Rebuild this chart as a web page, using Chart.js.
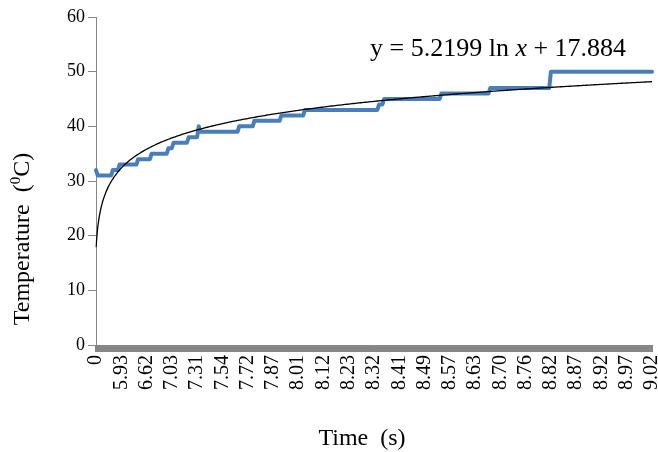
<!DOCTYPE html>
<html>
<head>
<meta charset="utf-8">
<script src="https://cdn.jsdelivr.net/npm/chart.js@4.4.1/dist/chart.umd.min.js"></script>
<style>
  html, body { margin: 0; padding: 0; background: #ffffff; }
  #wrap { width: 658px; height: 452px; }
</style>
</head>
<body>
<div id="wrap"><canvas id="tempChart" width="658" height="452"></canvas></div>
<script>
// Tick labels shown under the x axis (one every 15 readings)
const tickLabels = ['0', '5.93', '6.62', '7.03', '7.31', '7.54', '7.72', '7.87', '8.01', '8.12', '8.23',
    '8.32', '8.41', '8.49', '8.57', '8.63', '8.70', '8.76', '8.82', '8.87', '8.92', '8.97', '9.02'];
const labelEvery = 15;

// Measured temperature, one value per reading (rows of 15)
const temperature = [
    32, 31, 31, 31, 31, 31, 31, 31, 31, 31, 32, 32, 32, 32, 33,
    33, 33, 33, 33, 33, 33, 33, 33, 33, 33, 34, 34, 34, 34, 34,
    34, 34, 34, 35, 35, 35, 35, 35, 35, 35, 35, 35, 35, 36, 36,
    36, 37, 37, 37, 37, 37, 37, 37, 37, 37, 38, 38, 38, 38, 38,
    38, 40, 39, 39, 39, 39, 39, 39, 39, 39, 39, 39, 39, 39, 39,
    39, 39, 39, 39, 39, 39, 39, 39, 39, 39, 40, 40, 40, 40, 40,
    40, 40, 40, 40, 41, 41, 41, 41, 41, 41, 41, 41, 41, 41, 41,
    41, 41, 41, 41, 41, 42, 42, 42, 42, 42, 42, 42, 42, 42, 42,
    42, 42, 42, 42, 43, 43, 43, 43, 43, 43, 43, 43, 43, 43, 43,
    43, 43, 43, 43, 43, 43, 43, 43, 43, 43, 43, 43, 43, 43, 43,
    43, 43, 43, 43, 43, 43, 43, 43, 43, 43, 43, 43, 43, 43, 43,
    43, 43, 43, 44, 44, 44, 45, 45, 45, 45, 45, 45, 45, 45, 45,
    45, 45, 45, 45, 45, 45, 45, 45, 45, 45, 45, 45, 45, 45, 45,
    45, 45, 45, 45, 45, 45, 45, 45, 45, 45, 46, 46, 46, 46, 46,
    46, 46, 46, 46, 46, 46, 46, 46, 46, 46, 46, 46, 46, 46, 46,
    46, 46, 46, 46, 46, 46, 46, 46, 46, 47, 47, 47, 47, 47, 47,
    47, 47, 47, 47, 47, 47, 47, 47, 47, 47, 47, 47, 47, 47, 47,
    47, 47, 47, 47, 47, 47, 47, 47, 47, 47, 47, 47, 47, 47, 47,
    50, 50, 50, 50, 50, 50, 50, 50, 50, 50, 50, 50, 50, 50, 50,
    50, 50, 50, 50, 50, 50, 50, 50, 50, 50, 50, 50, 50, 50, 50,
    50, 50, 50, 50, 50, 50, 50, 50, 50, 50, 50, 50, 50, 50, 50,
    50, 50, 50, 50, 50, 50, 50, 50, 50, 50, 50, 50, 50, 50, 50,
    50
];

// Logarithmic trend line printed on the chart: y = a ln x + b
const trendA = 5.2199;
const trendB = 17.884;

const yTicks = [0, 10, 20, 30, 40, 50, 60];

// Category labels: only every 15th reading gets a printed label
const categories = temperature.map((v, i) => (i % labelEvery === 0 ? tickLabels[i / labelEvery] : ''));
// Excel counts x from 1 for the trend line
const trend = temperature.map((v, i) => trendA * Math.log(i + 1) + trendB);

const axisGrey = '#868686';
const serif = '"Liberation Serif", "Times New Roman", serif';

// Write a run of text pieces [text, font, raise] one after another
function drawPieces(ctx, pieces, x, y) {
    pieces.forEach(p => {
        ctx.font = p[1];
        ctx.fillText(p[0], x, y - (p[2] || 0));
        x += ctx.measureText(p[0]).width;
    });
}

function piecesWidth(ctx, pieces) {
    let w = 0;
    pieces.forEach(p => {
        ctx.font = p[1];
        w += ctx.measureText(p[0]).width;
    });
    return w;
}

// Draw axis titles and the trend equation as text on the canvas
const textPlugin = {
    id: 'chartText',
    afterDraw(chart) {
        const ctx = chart.ctx;
        ctx.save();
        ctx.fillStyle = '#000000';
        ctx.textBaseline = 'alphabetic';
        ctx.textAlign = 'left';

        // x axis title
        const xTitle = [['Time  (s)', '24px ' + serif]];
        drawPieces(ctx, xTitle, 362 - piecesWidth(ctx, xTitle) / 2, 445);

        // y axis title, with a small raised 0 before C
        const yTitle = [
            ['Temperature  (', '24px ' + serif],
            ['0', '15px ' + serif, 9],
            ['C)', '24px ' + serif]
        ];
        ctx.save();
        ctx.translate(29, 239);
        ctx.rotate(-Math.PI / 2);
        drawPieces(ctx, yTitle, -piecesWidth(ctx, yTitle) / 2, 0);
        ctx.restore();

        // trend equation, with x in italics
        const eq = [
            ['y = 5.2199 ln ', '26px ' + serif],
            ['x', 'italic 26px ' + serif],
            [' + 17.884', '26px ' + serif]
        ];
        drawPieces(ctx, eq, 370, 56);
        ctx.restore();
    }
};

const ctx = document.getElementById('tempChart').getContext('2d');
const tempChart = new Chart(ctx, {
    type: 'line',
    data: {
        labels: categories,
        datasets: [{
            label: 'Trend',
            data: trend,
            borderColor: '#000000',
            borderWidth: 1.3,
            pointRadius: 0,
            tension: 0,
            order: 0
        }, {
            label: 'Temperature',
            data: temperature,
            borderColor: '#4a7ebb',
            borderWidth: 4,
            borderJoinStyle: 'round',
            borderCapStyle: 'round',
            pointRadius: 0,
            tension: 0,
            order: 1
        }]
    },
    options: {
        responsive: false,
        animation: false,
        layout: { padding: { top: 17, right: 6, left: 0, bottom: 0 } },
        plugins: {
            legend: { display: false },
            tooltip: { enabled: false }
        },
        scales: {
            x: {
                offset: false,
                grid: {
                    display: true,
                    drawOnChartArea: false,
                    drawTicks: true,
                    tickLength: 7,
                    lineWidth: 2,
                    color: axisGrey
                },
                border: { color: axisGrey, width: 1 },
                ticks: {
                    autoSkip: false,
                    maxRotation: 90,
                    minRotation: 90,
                    padding: 3,
                    color: '#000000',
                    font: { family: serif, size: 20 },
                    callback: function (value) {
                        return this.getLabelForValue(value);
                    }
                },
                afterFit: function (scale) {
                    scale.height = 107;
                    // keep the plot running to the right edge
                    scale.paddingLeft = 0;
                    scale.paddingRight = 0;
                }
            },
            y: {
                min: 0,
                max: 60,
                afterBuildTicks: function (scale) {
                    scale.ticks = yTicks.map(v => ({ value: v }));
                },
                grid: {
                    display: true,
                    drawOnChartArea: false,
                    drawTicks: true,
                    tickLength: 8,
                    color: axisGrey
                },
                border: { color: axisGrey, width: 1 },
                ticks: {
                    padding: 3,
                    color: '#000000',
                    font: { family: serif, size: 18 }
                },
                afterFit: function (scale) {
                    scale.width = 96;
                }
            }
        }
    },
    plugins: [textPlugin]
});
</script>
</body>
</html>
